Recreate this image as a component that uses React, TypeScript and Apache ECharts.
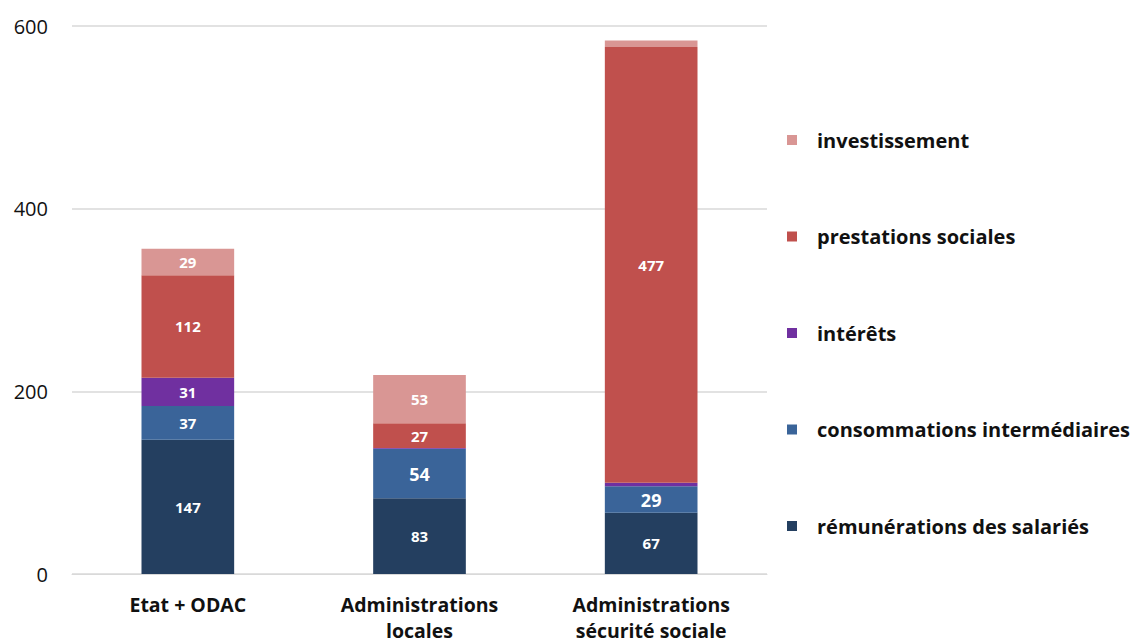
import React, { useEffect, useRef } from "react";
import * as echarts from "echarts";

const categories = ["Etat + ODAC", "Administrations\nlocales", "Administrations\nsécurité sociale"];
const remunerations = [147, 83, 67];
const consommations = [37, 54, 29];
const interets = [31, 1, 4];
const prestations = [112, 27, 477];
const investissement = [29, 53, 7];
const yTicks = [0, 200, 400, 600];

const FONT = "'Open Sans', 'Noto Sans', sans-serif";
const LABEL_SIZE = 15;
const LABEL_SIZE_LARGE = 18;

export default function App() {
  const ref = useRef<HTMLDivElement>(null);

  useEffect(() => {
    if (!ref.current) return;
    const chart = echarts.init(ref.current, undefined, { renderer: "svg" });

    // largeIdx: category indices whose value label is set in a larger size
    const mk = (name: string, data: number[], color: string, largeIdx: number[] = []) => ({
      name,
      type: "bar",
      stack: "total",
      barWidth: "40%",
      data: data.map((v, i) =>
        largeIdx.includes(i) ? { value: v, label: { fontSize: LABEL_SIZE_LARGE } } : v
      ),
      itemStyle: { color },
      label: {
        show: true,
        position: "inside",
        color: "#fff",
        fontFamily: FONT,
        fontWeight: "bold",
        fontSize: LABEL_SIZE,
        formatter: (p: any) => (p.value >= 10 ? String(p.value) : ""),
      },
    });

    chart.setOption({
      animation: false,
      textStyle: { fontFamily: FONT },
      grid: { left: 72, right: 363, top: 26, bottom: 70, outerBoundsMode: "none" },
      legend: {
        orient: "vertical",
        left: 787,
        top: 130,
        padding: 0,
        itemWidth: 10,
        itemHeight: 10,
        itemGap: 76.5,
        icon: "rect",
        data: [
          "investissement",
          "prestations sociales",
          "intérêts",
          "consommations intermédiaires",
          "rémunérations des salariés",
        ],
        textStyle: { fontFamily: FONT, fontWeight: "bold", fontSize: 20, color: "#111", padding: [0, 0, 0, 15] },
      },
      xAxis: {
        type: "category",
        data: categories,
        axisLine: { lineStyle: { color: "#d9d9d9" } },
        axisTick: { show: false },
        axisLabel: {
          color: "#111",
          fontFamily: FONT,
          fontWeight: "bold",
          fontSize: 19.5,
          lineHeight: 26,
          margin: 17,
        },
      },
      yAxis: {
        type: "value",
        min: yTicks[0],
        max: yTicks[yTicks.length - 1],
        interval: 200,
        axisLine: { show: false },
        axisTick: { show: false },
        splitLine: { lineStyle: { color: "#d9d9d9", width: 1.5 } },
        axisLabel: { color: "#111", fontFamily: FONT, fontSize: 20, margin: 24 },
      },
      series: [
        mk("rémunérations des salariés", remunerations, "#243F60"),
        mk("consommations intermédiaires", consommations, "#3A6499", [1, 2]),
        mk("intérêts", interets, "#7030A0"),
        mk("prestations sociales", prestations, "#C0504D"),
        mk("investissement", investissement, "#D99694"),
      ],
    });

    return () => chart.dispose();
  }, []);

  return (
    <div
      ref={ref}
      style={{ position: "fixed", left: 0, top: 0, width: 1130, height: 644, background: "#fff" }}
    />
  );
}
